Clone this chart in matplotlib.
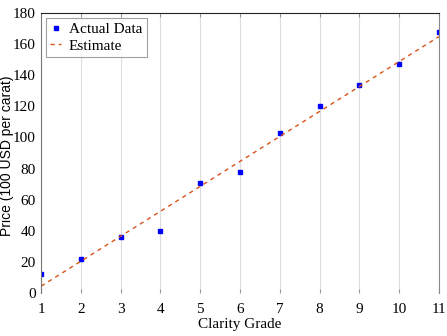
import numpy as np
import matplotlib
matplotlib.use('Agg')
import matplotlib.pyplot as plt

# データ
grade = [1, 2, 3, 4, 5, 6, 7, 8, 9, 10, 11]
price = [12, 22, 36, 40, 71, 78, 103, 120, 134, 147, 168]
est_x = [1, 11]
est_y = [4.4, 164.9]

plt.rcParams['font.family'] = ['Liberation Serif', 'DejaVu Serif']

fig = plt.figure(figsize=(4.47, 3.36), dpi=100)
ax = fig.add_axes([0.092, 0.128, 0.890, 0.833])

ax.plot(grade, price, 's', color='#0000ff', markersize=3.5, label='Actual Data')
ax.plot(est_x, est_y, '--', color='#d95319', linewidth=1.0, dashes=(3, 3), label='Estimate')

ax.set_xlim(1, 11)
ax.set_ylim(0, 180)
ax.set_xticks(range(1, 12))
ax.set_yticks(range(0, 181, 20))
ax.tick_params(axis='x', labelsize=11, direction='in', length=3, width=0.8,
               color='#999999', top=True, pad=7)
ax.tick_params(axis='y', labelsize=11, length=0, pad=4)
ax.xaxis.grid(True, color='#dddddd', linewidth=0.8)

ax.spines['top'].set_color('#222222')
ax.spines['left'].set_color('#777777')
ax.spines['right'].set_color('#888888')
ax.spines['bottom'].set_visible(False)

ax.set_xlabel('Clarity Grade', fontsize=11, labelpad=2)
ax.set_ylabel('Price (100 USD per carat)', fontsize=10,
              family=['Liberation Sans', 'DejaVu Sans'])
ax.yaxis.set_label_coords(-0.067, 0.49)

leg = ax.legend(loc='upper left', fontsize=11, frameon=True, fancybox=False,
                borderaxespad=0.3, handlelength=0.7, handletextpad=0.5,
                borderpad=0.3, labelspacing=0.2)
leg.get_frame().set_edgecolor('#888888')
leg.get_frame().set_linewidth(0.8)

plt.savefig('out.png', dpi=100)
